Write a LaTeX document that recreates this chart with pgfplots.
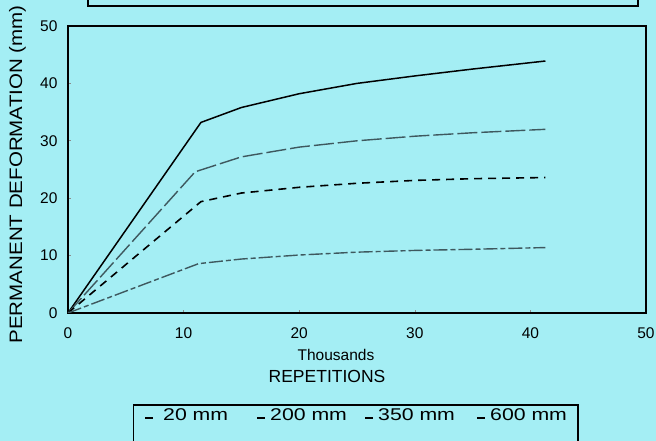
\documentclass[border=0pt]{standalone}
\usepackage{fontspec}
\setmainfont{Liberation Sans}
\usepackage{pgfplots}
\pgfplotsset{compat=1.18}
\definecolor{bgcyan}{RGB}{164,238,244}
\definecolor{darkteal}{RGB}{62,88,94}
\newcommand{\fs}[1]{\fontsize{#1}{#1}\selectfont}

\begin{document}
\begin{tikzpicture}[x=1pt,y=1pt]
\fill[bgcyan] (0,0) rectangle (656,441);
\useasboundingbox (0,0) rectangle (656,441);

% title box, cut off by the top edge
\draw[line width=2pt] (88,470) -- (88,435) -- (638,435) -- (638,470);

\begin{axis}[
    at={(68pt,128pt)}, anchor=south west,
    width=578pt, height=287pt, scale only axis,
    xmin=0, xmax=50, ymin=0, ymax=50,
    xtick={0,10,...,50}, ytick={0,10,...,50},
    xtick pos=bottom, ytick pos=left,
    tick align=inside,
    major tick length=3pt,
    major tick style={line width=0.6pt, black!45},
    axis line style={line width=1.5pt},
    /pgf/number format/assume math mode=true,
    ticklabel style={font=\fs{15.5}},
    xticklabel style={yshift=-11pt},
    yticklabel style={xshift=-7pt},
]
% 20 mm
\addplot[black, line width=1.5pt] coordinates {
    (0,0)(11.5,33.2)(15,35.8)(20,38.2)(25,40.0)(30,41.3)(35,42.5)(41.3,43.9)
};
% 200 mm
\addplot[darkteal, line width=1.4pt, dash pattern=on 20pt off 4pt] coordinates {
    (0,0)(11.0,24.6)(15,27.2)(20,28.9)(25,30.0)(30,30.8)(35,31.4)(41.3,32.0)
};
% 350 mm
\addplot[black, line width=1.6pt, dash pattern=on 8pt off 6pt] coordinates {
    (0,0)(11.5,19.4)(15,20.9)(20,21.9)(25,22.6)(30,23.1)(35,23.4)(41.3,23.6)
};
% 600 mm
\addplot[darkteal, line width=1.4pt, dash pattern=on 14pt off 3pt on 5pt off 3pt] coordinates {
    (0,0)(11.3,8.6)(15,9.4)(20,10.1)(25,10.6)(30,10.9)(35,11.1)(41.3,11.4)
};
\end{axis}

% axis titles
\node[font=\fs{15.5}] at (336,86) {Thousands};
\node[font=\fs{17.5}] at (327,65) {REPETITIONS};
\node[rotate=90, anchor=base west, font=\fs{18}] at (22,94)
    {\scalebox{1.14}[1]{PERMANENT DEFORMATION (mm)}};

% legend
\draw[line width=0.8pt] (133,-5) -- (133,36);
\draw[line width=1.5pt] (133,36) -- (578,36) -- (578,-5);
\foreach \sx/\tx/\lab in {145/163/20 mm, 257/270/200 mm, 365/378/350 mm, 477/490/600 mm}{
    \draw[line width=1.8pt] (\sx,23) -- ({\sx+8},23);
    \node[anchor=base west, inner sep=0pt, font=\fs{17}] at (\tx,20)
        {\scalebox{1.25}[1]{\lab}};
}
\end{tikzpicture}
\end{document}
